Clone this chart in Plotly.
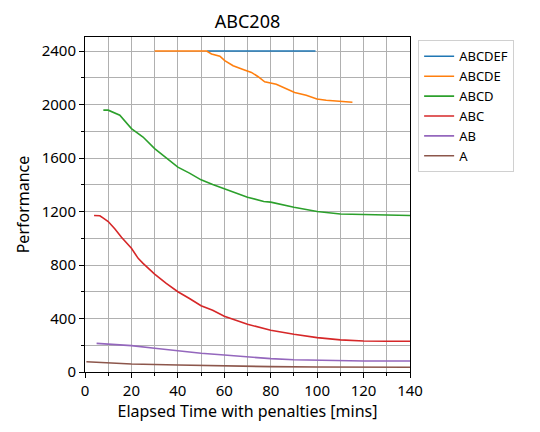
import plotly.graph_objects as go

names = ["ABCDEF", "ABCDE", "ABCD", "ABC", "AB", "A"]
colors = ["#1f77b4", "#ff7f0e", "#2ca02c", "#d62728", "#9467bd", "#8c564b"]

abcdef_x = [52.6, 99.3]
abcdef_y = [2400, 2400]

abcde_x = [30, 52.4, 54.5, 58.1, 60.2, 63.8, 68.1, 71.7, 74.6, 77.4, 82.4, 86.7, 90.3, 95.3, 99.9, 103.9, 109.7, 115.2]
abcde_y = [2400, 2400, 2378, 2362, 2328, 2290, 2262, 2240, 2208, 2170, 2152, 2115, 2090, 2070, 2042, 2032, 2025, 2017]

abcd_x = [7.9, 10, 15, 20, 25, 30, 35, 40, 45, 50, 55, 60, 65, 70, 77, 80, 90, 100, 110, 120, 130, 140]
abcd_y = [1958, 1958, 1920, 1820, 1757, 1670, 1602, 1532, 1487, 1437, 1402, 1370, 1337, 1307, 1275, 1270, 1232, 1200, 1182, 1177, 1175, 1170]

abc_x = [3.9, 6.4, 7.9, 10, 12.9, 15.7, 20, 22.9, 25, 30, 35, 40, 45, 50, 55, 60, 70, 80, 90, 100, 110, 120, 130, 140]
abc_y = [1170, 1168, 1150, 1125, 1070, 1007, 925, 850, 812, 732, 662, 600, 550, 495, 462, 417, 357, 312, 282, 257, 240, 232, 230, 230]

ab_x = [5, 10, 20, 30, 40, 50, 60, 70, 80, 90, 100, 110, 120, 140]
ab_y = [214, 209, 197, 177, 157, 140, 127, 112, 100, 92, 87, 85, 82, 82]

a_x = [0.6, 20, 40, 60, 80, 100, 140]
a_y = [77, 60, 52, 45, 40, 37, 35]

series_x = [abcdef_x, abcde_x, abcd_x, abc_x, ab_x, a_x]
series_y = [abcdef_y, abcde_y, abcd_y, abc_y, ab_y, a_y]

font = "Noto Sans, DejaVu Sans, sans-serif"

fig = go.Figure()
for n, c, xs, ys in zip(names, colors, series_x, series_y):
    fig.add_trace(go.Scatter(x=xs, y=ys, mode="lines", name=n,
                             line=dict(color=c, width=1.6)))

grid = "#b0b0b0"
fig.update_layout(
    width=540, height=432,
    margin=dict(l=85, r=130, t=37, b=60),
    paper_bgcolor="white", plot_bgcolor="white",
    font=dict(family=font, color="black", size=15),
    title=dict(text="ABC208", x=(85 + 410) / 2 / 540, xanchor="center",
               y=1 - 22 / 432, yanchor="middle",
               font=dict(size=18, family=font)),
    showlegend=True,
    legend=dict(x=1.025, y=0.99, xanchor="left", yanchor="top",
                bordercolor="#d0d0d0", borderwidth=1, bgcolor="white",
                font=dict(size=13, family=font), tracegroupgap=0),
)
fig.update_xaxes(
    range=[0, 140], dtick=20, tick0=0,
    showline=True, linecolor="black", linewidth=1, mirror=True,
    ticks="outside", ticklen=5, tickcolor="black",
    showgrid=True, gridcolor=grid, gridwidth=1,
    minor=dict(dtick=10, tick0=0, ticks="outside", ticklen=3, tickcolor="black",
               showgrid=True, gridcolor=grid, gridwidth=1),
    zeroline=False,
    title=dict(text="Elapsed Time with penalties [mins]", font=dict(size=16), standoff=2),
    tickfont=dict(size=15),
)
fig.update_yaxes(
    range=[0, 2505], dtick=400, tick0=0,
    showline=True, linecolor="black", linewidth=1, mirror=True,
    ticks="outside", ticklen=5, tickcolor="black",
    showgrid=True, gridcolor=grid, gridwidth=1,
    minor=dict(dtick=200, tick0=0, ticks="outside", ticklen=3, tickcolor="black",
               showgrid=True, gridcolor=grid, gridwidth=1),
    zeroline=False,
    title=dict(text="Performance", font=dict(size=16), standoff=8),
    tickfont=dict(size=15),
)

fig.write_html("out.html", config={"displayModeBar": False},
               post_script="document.body.style.margin='0';")
